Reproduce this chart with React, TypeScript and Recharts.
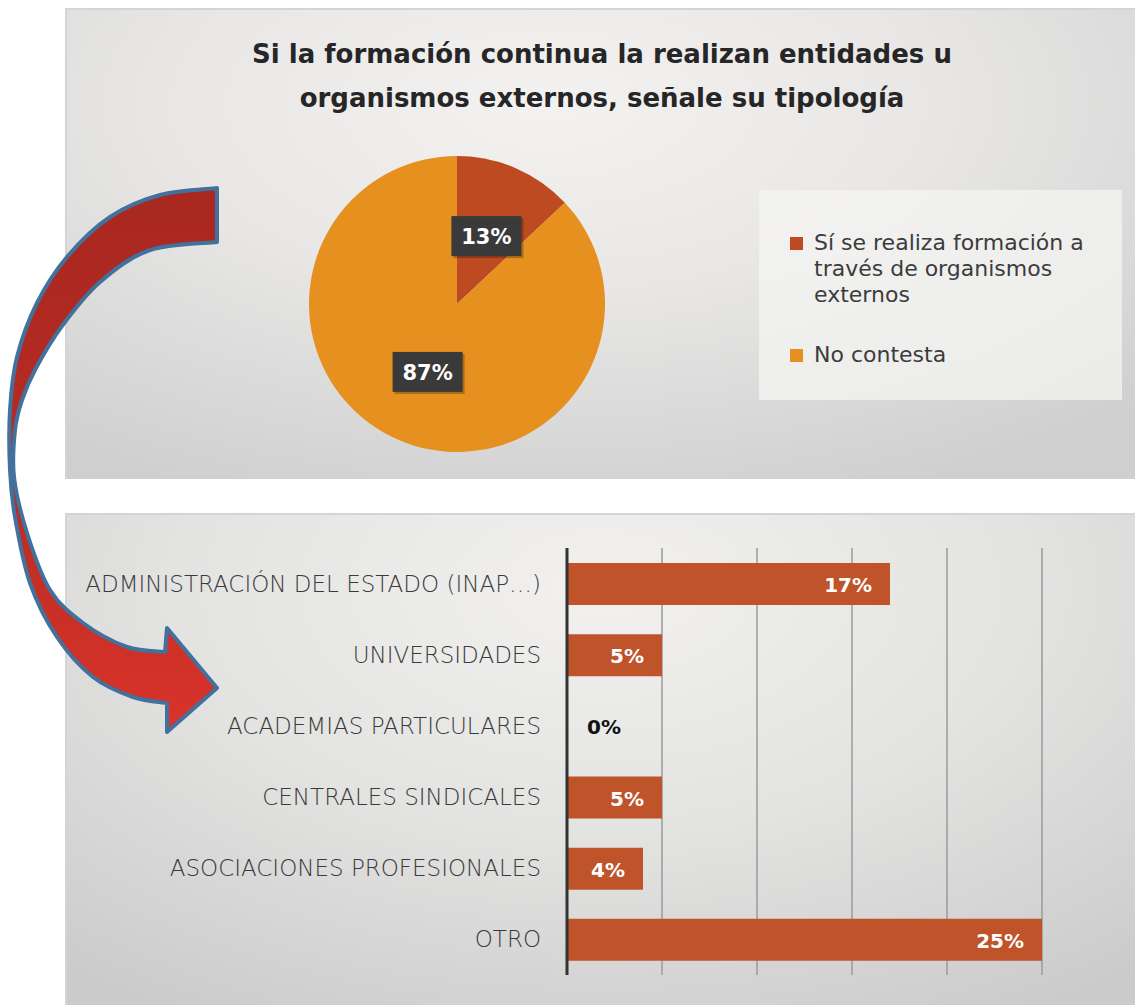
import React from "react";
import { PieChart, Pie, Cell, Legend, BarChart, Bar, XAxis, YAxis, CartesianGrid } from "recharts";

const titleLines = ["Si la formación continua la realizan entidades u", "organismos externos, señale su tipología"];
const pieNames = ["Sí se realiza formación a través de organismos externos", "No contesta"];
const pieValues = [13, 87];
const pieColors = ["#BE4A22", "#E5901F"];

const barCategories = [
  "ADMINISTRACIÓN DEL ESTADO (INAP…)",
  "UNIVERSIDADES",
  "ACADEMIAS PARTICULARES",
  "CENTRALES SINDICALES",
  "ASOCIACIONES PROFESIONALES",
  "OTRO",
];
const barValues = [17, 5, 0, 5, 4, 25];
const xTicks = [0, 5, 10, 15, 20, 25];

const pieData = pieNames.map((name, i) => ({ name, value: pieValues[i] }));
const barData = barCategories.map((name, i) => ({ name, value: barValues[i] }));

const FONT = "'DejaVu Sans', 'Noto Sans', sans-serif";
const TICK_MARGIN = 26;

// decorative arrow outline
const outerPts: [number, number][] = [
  [217, 188], [160, 195], [110, 217], [67, 257], [37, 303], [17, 357], [10, 410], [10, 470],
  [15, 517], [30, 583], [57, 637], [93, 677], [133, 697], [167, 703],
];
const innerPts: [number, number][] = [
  [165, 652], [127, 647], [83, 623], [50, 590], [27, 533], [14, 477], [15, 430], [22, 400],
  [36, 368], [62, 326], [100, 282], [150, 250], [217, 242],
];

function crSegments(pts: [number, number][]) {
  let d = "";
  for (let i = 0; i < pts.length - 1; i++) {
    const p0 = pts[i - 1] || pts[i];
    const p1 = pts[i];
    const p2 = pts[i + 1];
    const p3 = pts[i + 2] || p2;
    const c1x = p1[0] + (p2[0] - p0[0]) / 6;
    const c1y = p1[1] + (p2[1] - p0[1]) / 6;
    const c2x = p2[0] - (p3[0] - p1[0]) / 6;
    const c2y = p2[1] - (p3[1] - p1[1]) / 6;
    d += ` C ${c1x} ${c1y} ${c2x} ${c2y} ${p2[0]} ${p2[1]}`;
  }
  return d;
}

const arrowPath =
  `M ${outerPts[0][0]} ${outerPts[0][1]}` +
  crSegments(outerPts) +
  ` L 167 732 L 217 688 L 167 628 L 165 652` +
  crSegments(innerPts) +
  " Z";

const renderPieLabel = (props: any) => {
  const { cx, cy, midAngle, value } = props;
  const RAD = Math.PI / 180;
  const r = 74;
  const x = cx + r * Math.cos(-midAngle * RAD);
  const y = cy + r * Math.sin(-midAngle * RAD);
  return (
    <g>
      <rect x={x - 33} y={y - 18} width={70} height={40} fill="rgba(0,0,0,0.25)" />
      <rect x={x - 35} y={y - 20} width={70} height={40} fill="#3A3A3A" />
      <text x={x} y={y + 1} fill="#FFFFFF" textAnchor="middle" dominantBaseline="central" fontSize={21} fontWeight="bold" fontFamily={FONT}>
        {`${value}%`}
      </text>
    </g>
  );
};

const renderLegend = () => (
  <div
    style={{
      width: 363,
      height: 210,
      background: "rgba(244,244,243,0.75)",
      boxSizing: "border-box",
      paddingTop: 40,
      paddingLeft: 31,
      fontFamily: FONT,
    }}
  >
    {pieNames.map((n, i) => (
      <div key={n} style={{ display: "flex", alignItems: "flex-start", marginBottom: 34 }}>
        <div style={{ width: 13, height: 13, background: pieColors[i], marginTop: 7, marginRight: 11, flexShrink: 0 }} />
        <div style={{ width: 290, fontSize: 22, lineHeight: "26px", color: "#3C3C3C" }}>{n}</div>
      </div>
    ))}
  </div>
);

const renderBarLabel = (props: any) => {
  const { x, y, width, height, value } = props;
  const w = Number(width) || 0;
  const h = Number(height) || 42;
  if (Number(value) > 0) {
    return (
      <text x={x + w - 18} y={y + h / 2 + 1} textAnchor="end" dominantBaseline="central" fill="#FFFFFF" fontSize={20} fontWeight="bold" fontFamily={FONT}>
        {`${value}%`}
      </text>
    );
  }
  return null;
};

// category tick; also writes the "0%" label for empty bars at the category's scale position
const CategoryTick = (props: any) => {
  const { x, y, payload } = props;
  const idx = barCategories.indexOf(payload.value);
  const v = idx >= 0 ? barValues[idx] : undefined;
  return (
    <g>
      <text x={x} y={y} textAnchor="end" dominantBaseline="central" fill="#3A3A3A" fontSize={23} fontWeight={300} fontFamily={FONT}>
        {payload.value}
      </text>
      {v === 0 && (
        <text x={x + TICK_MARGIN + 20} y={y + 1} textAnchor="start" dominantBaseline="central" fill="#111111" fontSize={20} fontWeight="bold" fontFamily={FONT}>
          {`${v}%`}
        </text>
      )}
    </g>
  );
};

export default function App() {
  return (
    <div style={{ position: "absolute", left: 0, top: 0, width: 1135, height: 1005, overflow: "hidden", background: "#FFFFFF", fontFamily: FONT }}>
      {/* top panel */}
      <div
        style={{
          position: "absolute",
          left: 65,
          top: 8,
          width: 1070,
          height: 471,
          boxSizing: "border-box",
          borderTop: "2px solid #D4D4D4",
          borderLeft: "2px solid #D4D4D4",
          background: "radial-gradient(ellipse 80% 90% at 45% 20%, #F3F2F1 0%, #E8E7E6 45%, #CFCFCF 100%)",
        }}
      >
        <div
          style={{
            position: "absolute",
            left: 0,
            top: 22,
            width: 1070,
            textAlign: "center",
            fontSize: 26,
            fontWeight: "bold",
            lineHeight: "44px",
            color: "#262626",
          }}
        >
          {titleLines[0]}
          <br />
          {titleLines[1]}
        </div>
        <div style={{ position: "absolute", left: 0, top: 0 }}>
          <PieChart width={1070} height={471}>
            <Pie
              data={pieData}
              dataKey="value"
              nameKey="name"
              cx={385}
              cy={289}
              outerRadius={148}
              startAngle={90}
              endAngle={-270}
              stroke="none"
              label={renderPieLabel}
              labelLine={false}
              isAnimationActive={false}
            >
              {pieData.map((d, i) => (
                <Cell key={d.name} fill={pieColors[i]} />
              ))}
            </Pie>
            <Legend content={renderLegend} wrapperStyle={{ left: 692, top: 180, width: 363, height: 210 }} />
          </PieChart>
        </div>
      </div>

      {/* bottom panel */}
      <div
        style={{
          position: "absolute",
          left: 65,
          top: 513,
          width: 1070,
          height: 492,
          boxSizing: "border-box",
          borderTop: "2px solid #D4D4D4",
          borderLeft: "2px solid #D4D4D4",
          background: "radial-gradient(ellipse 80% 100% at 50% 15%, #F2F1F0 0%, #E3E3E2 50%, #CBCBCB 100%)",
        }}
      >
        <div style={{ position: "absolute", left: -2, top: -2 }}>
          <BarChart
            width={1070}
            height={492}
            data={barData}
            layout="vertical"
            margin={{ top: 35, right: 93, bottom: 30, left: 0 }}
          >
            <CartesianGrid horizontal={false} vertical={true} stroke="#9A9A9A" strokeWidth={1.5} />
            <XAxis type="number" domain={[0, 25]} ticks={xTicks} hide />
            <YAxis
              type="category"
              dataKey="name"
              width={502}
              tickSize={0}
              tickMargin={TICK_MARGIN}
              tickLine={false}
              axisLine={{ stroke: "#333333", strokeWidth: 3 }}
              tick={<CategoryTick />}
              interval={0}
            />
            <Bar dataKey="value" fill="#BF532A" barSize={42} isAnimationActive={false} label={renderBarLabel} />
          </BarChart>
        </div>
      </div>

      {/* decorative curved arrow */}
      <svg width={1135} height={1005} style={{ position: "absolute", left: 0, top: 0, pointerEvents: "none" }}>
        <defs>
          <linearGradient id="arrowFill" x1="0" y1="0" x2="0" y2="1">
            <stop offset="0%" stopColor="#A82820" />
            <stop offset="55%" stopColor="#B92B22" />
            <stop offset="100%" stopColor="#D9342A" />
          </linearGradient>
        </defs>
        <path d={arrowPath} fill="url(#arrowFill)" stroke="#41719C" strokeWidth={4} strokeLinejoin="round" />
      </svg>
    </div>
  );
}
